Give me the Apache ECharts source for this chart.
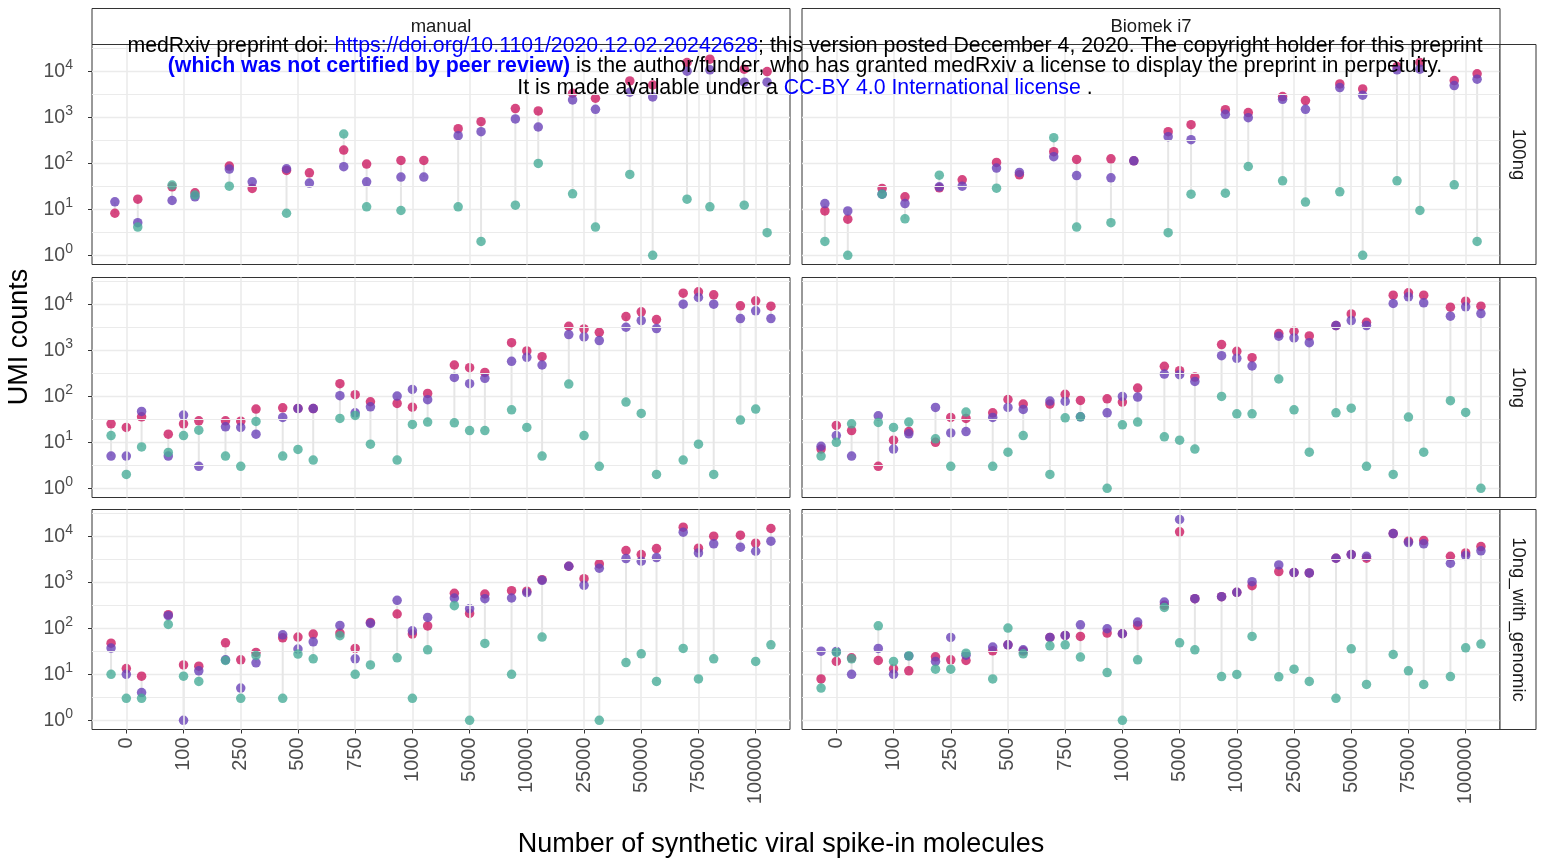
<!DOCTYPE html>
<html>
<head>
<meta charset="utf-8">
<title>UMI counts by spike-in amount</title>
<script src="https://cdn.jsdelivr.net/npm/echarts@6/dist/echarts.min.js"></script>
<style>
  html, body { margin: 0; padding: 0; background: #ffffff; }
  #chart { width: 1542px; height: 863px; }
</style>
</head>
<body>
<div id="chart"></div>
<script>
// Spike-in amounts (x categories)
const categories = ['0', '100', '250', '500', '750', '1000', '5000', '10000', '25000', '50000', '75000', '100000'];
const colLabels = ['manual', 'Biomek i7'];
const rowLabels = ['100ng', '10ng', '10ng_with_genomic'];
const yTickValues = [1, 10, 100, 1000, 10000];

// UMI counts per spike-in amount; each inner list holds the replicates (null = no count)
// manual, 100ng
const manual100ngPink = [[8.2, 16.6], [30.8, 22.8], [86.7, 28.3], [69.8, 62.1], [193, 95.9], [115, 115], [564, 801], [1538, 1368], [3319, 2583], [6160, 5040], [15450, 18250], [11060, 9840]];
const manual100ngPurple = [[14.5, 5.1], [15.5, 18.6], [74.6, 39.5], [75.9, 37], [84, 39.5], [50, 50], [397, 485], [916, 613], [2376, 1487], [3490, 2760], [10000, 10700], [5760, 5760]];
const manual100ngTeal = [[null, 4.1], [33.5, 20.3], [31.8, null], [8.2, null], [432, 11.3], [9.4, null], [11.3, 2.0], [12.3, 99], [21.7, 4.1], [57, 1], [16.6, 11.3], [12.3, 3.1]];

// Biomek i7, 100ng
const biomek100ngPink = [[9.2, 6.1], [28.3, 18.6], [29.3, 43.7], [104, 56], [178, 121], [125, 113], [485, 689], [1462, 1259], [2806, 2296], [5300, 4120], [12600, 15450], [6270, 8750]];
const biomek100ngPurple = [[13.3, 9.2], [21.3, 13.3], [30.8, 31.8], [78.5, 63], [139, 54], [48.3, 113], [378, 325], [1158, 979], [2455, 1487], [4410, 3000], [10700, 11060], [4870, 6700]];
const biomek100ngTeal = [[2.0, 1], [21.3, 6.2], [55, null], [28.8, null], [359, 4.1], [5.1, null], [3.1, 21.3], [22.4, 85], [41.6, 14.3], [24, 1], [41.6, 9.4], [34, 2.0]];

// manual, 10ng
const manual10ngPink = [[25.2, 21, 35.8], [15, 25.2, 29.3], [29.3, 28.8, 52.5], [56, 54.3, 54], [187, 108, 75.9], [69.8, 58, 115], [477, 418, 330], [1462, 963, 725], [3319, 2900, 2455], [5390, 6810, 4630], [17370, 18570, 15960], [9200, 11830, 9040]];
const manual10ngPurple = [[5.0, 5.0, 46.7], [5.0, 38.9, 3.0], [21.7, 21, 15], [34.6, 54, 54], [103, 43.7, 59], [101, 141, 84], [257, 187, 245], [574, 701, 477], [2184, 1944, 1617], [3155, 4410, 2950], [10000, 13970, 10000], [4870, 7160, 4870]];
const manual10ngTeal = [[14, 2.0, 7.9], [6.0, 14, 18.3], [5.0, 3.0, 28.3], [5.0, 7.0, 4.1], [32.9, 38.3, 9.1], [4.1, 24.4, 27.4], [26.5, 18, 18], [50.8, 21, 5.0], [184, 14, 3.0], [74.6, 42.3, 2.0], [4.1, 9.1, 2.0], [30.3, 52.5, null]];

// Biomek i7, 10ng
const biomek10ngPink = [[7.1, 23.2, 18], [3.0, 11.1, 17.1], [10, 34.6, 32.9], [43.7, 85, 67.5], [67.5, 110, 81], [88, 74.6, 151], [446, 359, 261], [1324, 947, 689], [2296, 2583, 2043], [3430, 6160, 4055], [15700, 17650, 15700], [8610, 11620, 9040]];
const biomek10ngPurple = [[8.2, 14, 5.0], [37.6, 7.1, 15.3], [57, 16, 17.1], [34.6, 57, 51.7], [78.5, 77, 35.8], [43.7, 99, 96], [304, 294, 210], [762, 667, 454], [2010, 1849, 1462], [3430, 4410, 3430], [10350, 14450, 10700], [5480, 8750, 6270]];
const biomek10ngTeal = [[5.0, 10, 25.2], [26.9, 21, 27.4], [11.9, 3.0, 45.2], [3.0, 6.1, 14], [2.0, 34, 35.8], [1, 24, 27.4], [13.1, 11.1, 7.1], [99, 41.6, 41.6], [237, 50.8, 6.1], [43.7, 55, 3.0], [2.0, 35.2, 6.1], [80, 44.5, 1]];

// manual, 10ng_with_genomic
const manualGenomicPink = [[47.5, 13.3, 9.1], [197, 16, 15], [48.3, 20.6, 29.8], [62, 64.2, 74.6], [78.5, 36.4, 134], [204, 74.6, 112], [574, 210, 555], [656, 640, 1138], [2222, 1197, 2497], [4870, 3990, 5390], [15700, 5480, 10000], [10500, 7040, 14690]];
const manualGenomicPurple = [[37, 10, 4.0], [187, 1, 11.9], [20.6, 5.0, 17.7], [72, 35.2, 50.8], [115, 21.7, 127], [404, 88, 172], [454, 266, 439], [454, 590, 1100], [2222, 857, 2010], [3266, 2856, 3430], [12220, 4330, 6810], [5760, 4710, 7780]];
const manualGenomicTeal = [[10, 3.0, 3.0], [121, 9.1, 7.0], [19.9, 3.0, 25.6], [3.0, 27.4, 21.7], [68.7, 10, 16], [22.8, 3.0, 34], [309, 1, 46.7], [10, null, 64.2], [null, null, 1], [18, 27.8, 7.0], [36.4, 7.9, 21.7], [null, 19, 43.7]];

// Biomek i7, 10ng_with_genomic
const biomekGenomicPink = [[7.9, 19, 22.8], [19.9, 13.1, 11.9], [24, 20.6, 19.9], [32.4, 43.7, 32], [63, 69.8, 66.4], [78.5, 75.9, 115], [314, 12420, 439], [485, 603, 843], [1700, 1617, 1590], [3319, 3990, 3319], [11430, 7780, 8050], [3667, 4330, 5960]];
const biomekGenomicPurple = [[31.8, 31.3, 10], [36.4, 10, 25.2], [19, 63, 26], [38.9, 43.7, 34], [63, 69.8, 119], [97.5, 75.9, 136], [371, 23070, 439], [485, 603, 1030], [2376, 1617, 1590], [3319, 3990, 3667], [11430, 7280, 6810], [2583, 3790, 4800]];
const biomekGenomicTeal = [[5.0, 29.8, 21.7], [113, 19, 25.2], [12.9, 12.9, 28.8], [7.9, 101, 27.8], [41.6, 43.7, 23.6], [10.9, 1, 20.6], [284, 48.3, 34], [8.9, 9.9, 66.4], [8.8, 12.9, 7.0], [3.0, 35.8, 6.0], [26.9, 11.9, 6.0], [8.9, 37.6, 45.2]];

const panels = [
  { row: 0, col: 0, groups: [manual100ngPink, manual100ngPurple, manual100ngTeal] },
  { row: 0, col: 1, groups: [biomek100ngPink, biomek100ngPurple, biomek100ngTeal] },
  { row: 1, col: 0, groups: [manual10ngPink, manual10ngPurple, manual10ngTeal] },
  { row: 1, col: 1, groups: [biomek10ngPink, biomek10ngPurple, biomek10ngTeal] },
  { row: 2, col: 0, groups: [manualGenomicPink, manualGenomicPurple, manualGenomicTeal] },
  { row: 2, col: 1, groups: [biomekGenomicPink, biomekGenomicPurple, biomekGenomicTeal] }
];

// ---- layout and style ----
const FONT = '"Liberation Sans", Arial, Helvetica, sans-serif';
const pointColors = ['#cc1a62', '#6a42b8', '#48ad98'];
const gridColor = '#ebebeb';
const colLeft = [92, 802];
const panelWidth = 698;
const rowTop = [44.5, 277.5, 509.5];
const panelHeight = 220;
const stripSize = 36;
const yMin = Math.pow(10, -0.2);
const yMax = Math.pow(10, 4.58);
const dodgeWidth = 0.8;

const grids = [], xAxes = [], yAxes = [], series = [];

panels.forEach((p, gi) => {
  const isBottom = p.row === 2;
  const isLeft = p.col === 0;
  grids.push({
    left: colLeft[p.col], top: rowTop[p.row], width: panelWidth, height: panelHeight,
    show: true, borderColor: '#333333', borderWidth: 1, backgroundColor: '#ffffff', containLabel: false
  });
  xAxes.push({
    gridIndex: gi, type: 'value', min: 0.4, max: 12.6,
    axisLine: { show: false },
    splitLine: { show: false },
    axisTick: { show: isBottom, length: 4, lineStyle: { color: '#333333' }, customValues: categories.map((c, i) => i + 1) },
    axisLabel: {
      show: isBottom, rotate: 90, margin: 8, fontSize: 20, color: '#4d4d4d', fontFamily: FONT,
      customValues: categories.map((c, i) => i + 1),
      formatter: v => categories[Math.round(v) - 1] || ''
    }
  });
  yAxes.push({
    gridIndex: gi, type: 'log', logBase: 10, min: yMin, max: yMax,
    axisLine: { show: false },
    splitLine: { show: true, lineStyle: { color: gridColor, width: 1.3 } },
    axisTick: { show: isLeft, length: 4, lineStyle: { color: '#333333' }, customValues: yTickValues },
    axisLabel: {
      show: isLeft, margin: 19, color: '#4d4d4d', fontFamily: FONT,
      customValues: yTickValues,
      formatter: v => {
        const e = Math.log10(v);
        if (Math.abs(e - Math.round(e)) > 1e-6) return '';
        return '{b|10}{e|' + Math.round(e) + '}';
      },
      rich: {
        b: { fontSize: 19.5, color: '#4d4d4d', fontFamily: FONT },
        e: { fontSize: 14, color: '#4d4d4d', fontFamily: FONT, padding: [0, 0, 12, 0] }
      }
    }
  });

  // background gridlines: one per category and one between decades
  const gridLines = categories.map((c, i) => ({ xAxis: i + 1, lineStyle: { width: 1.6 } }));
  for (let k = 0; k < 5; k++) gridLines.push({ yAxis: Math.pow(10, k + 0.5) });
  series.push({
    type: 'scatter', xAxisIndex: gi, yAxisIndex: gi, data: [], z: 1, silent: true,
    markLine: {
      silent: true, symbol: 'none', animation: false,
      label: { show: false },
      lineStyle: { color: gridColor, width: 1.1, type: 'solid' },
      emphasis: { disabled: true },
      data: gridLines
    }
  });

  // replicate positions within a category
  const nRep = p.groups[0][0].length;
  const offset = j => (j - (nRep - 1) / 2) * dodgeWidth / nRep;

  // range segments linking the three counts of each replicate
  const ranges = [];
  categories.forEach((c, i) => {
    for (let j = 0; j < nRep; j++) {
      const vals = p.groups.map(g => g[i][j]).filter(v => v != null);
      if (vals.length > 1) ranges.push([i + 1 + offset(j), Math.min(...vals), Math.max(...vals)]);
    }
  });
  series.push({
    type: 'custom', xAxisIndex: gi, yAxisIndex: gi, z: 2, silent: true, animation: false,
    encode: { x: 0, y: [1, 2] },
    data: ranges,
    renderItem: (params, api) => {
      const a = api.coord([api.value(0), api.value(1)]);
      const b = api.coord([api.value(0), api.value(2)]);
      return { type: 'line', shape: { x1: a[0], y1: a[1], x2: b[0], y2: b[1] }, style: { stroke: '#e6e6e6', lineWidth: 2 } };
    }
  });

  // the counts themselves
  p.groups.forEach((g, k) => {
    const pts = [];
    g.forEach((reps, i) => reps.forEach((v, j) => { if (v != null) pts.push([i + 1 + offset(j), v]); }));
    series.push({
      type: 'scatter', xAxisIndex: gi, yAxisIndex: gi, z: 3 + k, silent: true, animation: false,
      symbol: 'circle', symbolSize: 9.5,
      itemStyle: { color: pointColors[k], opacity: 0.8 },
      data: pts
    });
  });
});

// facet strips, axis titles and the header note
const graphics = [];
colLabels.forEach((lab, c) => {
  graphics.push({ type: 'rect', z: 50, shape: { x: colLeft[c], y: rowTop[0] - stripSize, width: panelWidth, height: stripSize },
    style: { fill: '#ffffff', stroke: '#333333', lineWidth: 1 } });
  graphics.push({ type: 'text', z: 51, x: colLeft[c] + panelWidth / 2, y: rowTop[0] - stripSize / 2,
    style: { text: lab, font: '18.5px ' + FONT, fill: '#1a1a1a', align: 'center', verticalAlign: 'middle' } });
});
rowLabels.forEach((lab, r) => {
  const x0 = colLeft[1] + panelWidth;
  graphics.push({ type: 'rect', z: 50, shape: { x: x0, y: rowTop[r], width: stripSize, height: panelHeight },
    style: { fill: '#ffffff', stroke: '#333333', lineWidth: 1 } });
  graphics.push({ type: 'text', z: 51, x: x0 + stripSize / 2, y: rowTop[r] + panelHeight / 2, rotation: -Math.PI / 2,
    style: { text: lab, font: '18.5px ' + FONT, fill: '#1a1a1a', align: 'center', verticalAlign: 'middle' } });
});
graphics.push({ type: 'text', z: 51, x: 20, y: 337, rotation: Math.PI / 2,
  style: { text: 'UMI counts', font: '27px ' + FONT, fill: '#000000', align: 'center', verticalAlign: 'middle' } });
graphics.push({ type: 'text', z: 51, x: 781, y: 845,
  style: { text: 'Number of synthetic viral spike-in molecules', font: '27px ' + FONT, fill: '#000000', align: 'center', verticalAlign: 'middle' } });

const noteRich = {
  k: { fontSize: 21.3, fontFamily: FONT, fill: '#000000' },
  u: { fontSize: 21.3, fontFamily: FONT, fill: '#0000ff' },
  ub: { fontSize: 21.3, fontFamily: FONT, fill: '#0000ff', fontWeight: 'bold' }
};
const noteLines = [
  '{k|medRxiv preprint doi: }{u|https://doi.org/10.1101/2020.12.02.20242628}{k|; this version posted December 4, 2020. The copyright holder for this preprint}',
  '{ub|(which was not certified by peer review)}{k| is the author/funder, who has granted medRxiv a license to display the preprint in perpetuity.}',
  '{k|It is made available under a }{u|CC-BY 4.0 International license}{k| .}'
];
const noteY = [46, 66, 88];
noteLines.forEach((t, i) => {
  graphics.push({ type: 'text', z: 100, x: 805, y: noteY[i],
    style: { text: t, rich: noteRich, align: 'center', verticalAlign: 'middle' } });
});

const chart = echarts.init(document.getElementById('chart'), null, { renderer: 'canvas' });
chart.setOption({
  animation: false,
  backgroundColor: '#ffffff',
  textStyle: { fontFamily: FONT },
  grid: grids,
  xAxis: xAxes,
  yAxis: yAxes,
  series: series,
  graphic: { elements: graphics }
});
</script>
</body>
</html>
